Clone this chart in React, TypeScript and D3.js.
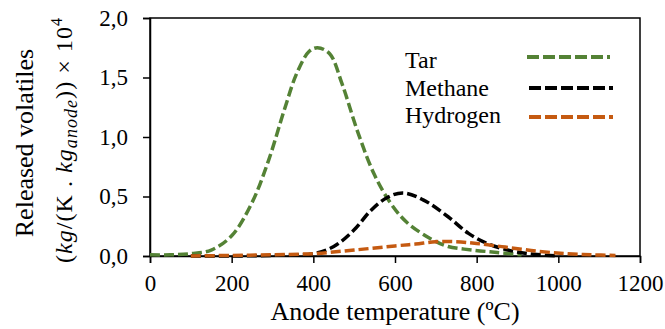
import React, { useEffect, useRef } from "react";
import * as d3 from "d3";

// data
const tarTemp = [0, 50, 100, 150, 200, 250, 290, 330, 360, 390, 410, 440, 470, 510, 550, 590, 630, 690, 730, 790, 850, 910];
const tarValue = [0.01, 0.01, 0.02, 0.05, 0.17, 0.45, 0.8, 1.24, 1.54, 1.72, 1.75, 1.7, 1.45, 1.03, 0.68, 0.44, 0.28, 0.14, 0.08, 0.05, 0.03, 0.01];

const methaneTemp = [100, 200, 300, 400, 450, 500, 540, 580, 620, 670, 730, 780, 830, 890, 940, 1000];
const methaneValue = [0, 0, 0.005, 0.02, 0.08, 0.22, 0.38, 0.49, 0.53, 0.47, 0.33, 0.19, 0.1, 0.04, 0.015, 0];

const hydrogenTemp = [100, 200, 300, 400, 500, 600, 650, 700, 750, 800, 870, 950, 1020, 1080, 1140];
const hydrogenValue = [0, 0.005, 0.01, 0.02, 0.05, 0.085, 0.1, 0.12, 0.12, 0.105, 0.075, 0.04, 0.02, 0.01, 0.005];

const seriesNames = ["Tar", "Methane", "Hydrogen"];
const seriesColors = ["#548235", "#000000", "#C55A11"];

const xTicks = [0, 200, 400, 600, 800, 1000, 1200];
const yTicks = [0, 0.5, 1.0, 1.5, 2.0];

const App = () => {
  const ref = useRef<SVGSVGElement>(null);

  useEffect(() => {
    const width = 665;
    const height = 329;
    const left = 150, right = 640, top = 18, bottom = 256;
    const font = "Liberation Serif, DejaVu Serif, Times New Roman";

    const svg = d3.select(ref.current);
    svg.selectAll("*").remove();
    svg.attr("width", width).attr("height", height);

    const x = d3.scaleLinear().domain([0, 1200]).range([left, right]);
    const y = d3.scaleLinear().domain([0, 2]).range([bottom, top]);

    // frame
    svg.append("rect")
      .attr("x", left).attr("y", top)
      .attr("width", right - left).attr("height", bottom - top)
      .attr("fill", "none").attr("stroke", "#000").attr("stroke-width", 1.5);

    // x axis
    const xAxis = svg.append("g")
      .attr("transform", `translate(0,${bottom})`)
      .call(d3.axisBottom(x).tickValues(xTicks).tickSize(7).tickPadding(12).tickFormat(d3.format("d")));
    xAxis.select(".domain").attr("stroke-width", 1.5);
    xAxis.selectAll("line").attr("stroke-width", 1.5);
    xAxis.selectAll("text").attr("font-family", font).attr("font-size", 23).attr("fill", "#000");

    // y axis
    const yAxis = svg.append("g")
      .attr("transform", `translate(${left},0)`)
      .call(d3.axisLeft(y).tickValues(yTicks).tickSize(7).tickPadding(15)
        .tickFormat((d) => d3.format(".1f")(d as number).replace(".", ",")));
    yAxis.select(".domain").attr("stroke-width", 1.5);
    yAxis.selectAll("line").attr("stroke-width", 1.5);
    yAxis.selectAll("text").attr("font-family", font).attr("font-size", 23).attr("fill", "#000");

    // axis titles
    svg.append("text")
      .attr("x", (left + right) / 2).attr("y", 320)
      .attr("text-anchor", "middle")
      .attr("font-family", font).attr("font-size", 26)
      .text("Anode temperature (ºC)");

    const yt = svg.append("g").attr("transform", `translate(0,${(top + bottom) / 2}) rotate(-90)`);
    yt.append("text")
      .attr("x", -6).attr("y", 33)
      .attr("text-anchor", "middle")
      .attr("font-family", font).attr("font-size", 26)
      .text("Released volatiles");
    const t2 = yt.append("text")
      .attr("x", -126).attr("y", 72)
      .attr("textLength", 245)
      .attr("lengthAdjust", "spacing")
      .attr("font-family", font).attr("font-size", 24);
    t2.append("tspan").text("(");
    t2.append("tspan").attr("font-style", "italic").text("kg");
    t2.append("tspan").text("/(K . ");
    t2.append("tspan").attr("font-style", "italic").text("kg");
    t2.append("tspan").attr("font-style", "italic").attr("font-size", 18).attr("dy", 5).text("anode");
    t2.append("tspan").attr("dy", -5).text(")) × 10");
    t2.append("tspan").attr("font-size", 16).attr("dy", -10).text("4");

    // curves
    const line = d3.line<[number, number]>()
      .x((d) => x(d[0]))
      .y((d) => y(d[1]))
      .curve(d3.curveCatmullRom.alpha(0.5));

    const series: [number, number][][] = [
      tarTemp.map((t, i) => [t, tarValue[i]]),
      methaneTemp.map((t, i) => [t, methaneValue[i]]),
      hydrogenTemp.map((t, i) => [t, hydrogenValue[i]]),
    ];

    series.forEach((s, i) => {
      svg.append("path")
        .attr("d", line(s))
        .attr("fill", "none")
        .attr("stroke", seriesColors[i])
        .attr("stroke-width", 3.5)
        .attr("stroke-dasharray", "10,4");
    });

    // legend
    const textY = [68, 96, 123];
    const lineY = [57, 88, 117];
    const lineX = [[527, 610], [529, 613], [529, 613]];
    seriesNames.forEach((name, i) => {
      svg.append("text")
        .attr("x", 405).attr("y", textY[i])
        .attr("font-family", font).attr("font-size", 24)
        .text(name);
      svg.append("line")
        .attr("x1", lineX[i][0]).attr("x2", lineX[i][1])
        .attr("y1", lineY[i]).attr("y2", lineY[i])
        .attr("stroke", seriesColors[i])
        .attr("stroke-width", 4)
        .attr("stroke-dasharray", "12,4");
    });
  }, []);

  return (
    <svg ref={ref} style={{ position: "absolute", left: 0, top: 0 }} />
  );
};

export default App;
